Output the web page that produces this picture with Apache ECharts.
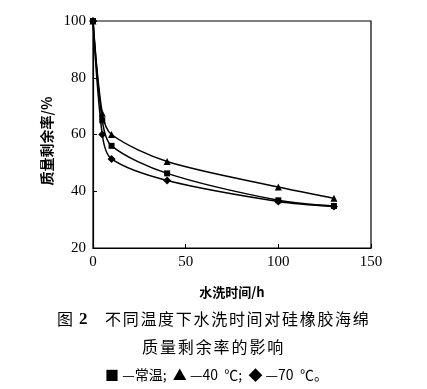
<!DOCTYPE html>
<html><head><meta charset="utf-8">
<script src="https://cdn.jsdelivr.net/npm/echarts@6/dist/echarts.min.js"></script>
<style>html,body{margin:0;padding:0;background:#fff}#c{width:427px;height:389px}</style>
</head><body><div id="c"></div>
<script>
const hours = [0, 5, 10, 40, 100, 130];
const roomTemp = [100, 65, 56, 46.3, 36.8, 34.8];
const minus40 = [100, 67.5, 60, 50.5, 41.5, 37.5];
const minus70 = [100, 60, 51.4, 43.8, 36.4, 34.6];
const xTicks = [0, 50, 100, 150];
const yTicks = [20, 40, 60, 80, 100];
const xName = '水洗时间/h';
const yName = '质量剩余率/%';
const figLabel = '图';
const figNum = '2';
const captionLine1 = '不同温度下水洗时间对硅橡胶海绵';
const captionLine2 = '质量剩余率的影响';
const legendLine = '■ —常温;  ▲ —40  ℃;  ◆ —70  ℃。';

const serif = '"Liberation Serif","DejaVu Serif",serif';
const cjk = '"Noto Sans CJK SC",sans-serif';
function mk(name, vals, sym, size) {
  return {
    name, type: 'line', data: hours.map((h, i) => [h, vals[i]]),
    smooth: 0.3,
    symbol: sym, symbolSize: size,
    lineStyle: {color: '#000', width: 1.5},
    itemStyle: {color: '#000'}
  };
}
function spaced(text, x0, pitch, top, font) {
  return Array.from(text).map((ch, i) => ({
    type: 'text', left: x0 + i * pitch, top,
    style: {text: ch, font, fill: '#000'}
  }));
}
const chart = echarts.init(document.getElementById('c'));
chart.setOption({
  animation: false,
  grid: {left: 93, right: 56, top: 21, bottom: 141, show: true, borderColor: '#000', borderWidth: 1.2},
  xAxis: {
    type: 'value', min: xTicks[0], max: xTicks[xTicks.length - 1], interval: 50,
    axisLine: {lineStyle: {color: '#000', width: 1.2}},
    axisTick: {inside: true, length: 4, lineStyle: {color: '#000'}},
    splitLine: {show: false},
    axisLabel: {color: '#000', fontFamily: serif, fontSize: 15, margin: 7},
    name: xName, nameLocation: 'middle', nameGap: 38,
    nameTextStyle: {color: '#000', fontFamily: cjk, fontSize: 13, fontWeight: 'bold'}
  },
  yAxis: {
    type: 'value', min: yTicks[0], max: yTicks[yTicks.length - 1], interval: 20,
    axisLine: {lineStyle: {color: '#000', width: 1.2}},
    axisTick: {inside: true, length: 4, lineStyle: {color: '#000'}},
    splitLine: {show: false},
    axisLabel: {color: '#000', fontFamily: serif, fontSize: 15, margin: 7}
  },
  series: [
    mk('常温', roomTemp, 'rect', 6),
    mk('-40 ℃', minus40, 'triangle', 7),
    mk('-70 ℃', minus70, 'diamond', 8)
  ],
  graphic: [
    {type: 'text', x: 47, y: 141, rotation: Math.PI / 2,
     style: {text: yName, font: 'bold 14px ' + cjk, fill: '#000', align: 'center', verticalAlign: 'middle'}},
    {type: 'text', left: 57, top: 311, style: {text: figLabel, font: '16px ' + cjk, fill: '#000'}},
    {type: 'text', left: 79, top: 311, style: {text: figNum, font: 'bold 17px ' + serif, fill: '#000'}},
    ...spaced(captionLine1, 105, 17.7, 311, '16px ' + cjk),
    ...spaced(captionLine2, 142, 17.9, 339, '16px ' + cjk),
    {type: 'text', left: 105, top: 368, style: {text: legendLine, font: '14px ' + cjk, fill: '#000'}}
  ]
});
</script></body></html>
